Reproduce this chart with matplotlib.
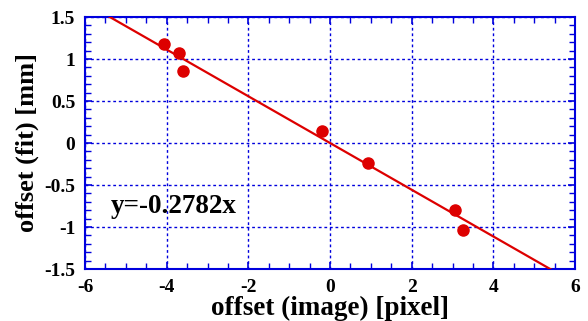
import numpy as np
import matplotlib.pyplot as plt
from matplotlib.ticker import MultipleLocator

# measured offsets
x_image = [-4.06, -3.70, -3.61, -0.20, 0.92, 3.06, 3.26]
y_fit = [1.175, 1.07, 0.853, 0.147, -0.234, -0.80, -1.036]
slope = -0.2782

plt.rcParams['font.family'] = ['Liberation Serif', 'DejaVu Serif']
plt.rcParams['font.weight'] = 'bold'

blue = '#0000dd'
red = '#dd0000'

fig = plt.figure(figsize=(5.88, 3.21), dpi=100)
ax = fig.add_axes([85 / 588, 1 - 269 / 321, 490 / 588, 252 / 321])

xl = np.array([-6, 6])
ax.plot(xl, slope * xl, color=red, lw=1.6, zorder=3)
ax.plot(x_image, y_fit, 'o', color=red, ms=8, zorder=4)

ax.set_xlim(-6, 6)
ax.set_ylim(-1.5, 1.5)
ax.xaxis.set_minor_locator(MultipleLocator(0.5))
ax.yaxis.set_minor_locator(MultipleLocator(0.1))
ax.set_xticks([-6, -4, -2, 0, 2, 4, 6])
ax.set_xticklabels(['-6', '-4', '-2', '0', '2', '4', '6'])
ax.set_yticks([-1.5, -1, -0.5, 0, 0.5, 1, 1.5])
ax.set_yticklabels(['-1.5', '-1', '-0.5', '0', '0.5', '1', '1.5'])

ax.grid(True, which='major', color=blue, ls=(0, (2, 2)), lw=1)
ax.tick_params(which='both', direction='in', top=True, right=True, color=blue,
               labelsize=14, pad=7)
ax.tick_params(which='major', length=5, width=1.2)
ax.tick_params(which='minor', length=4, width=1)
for s in ax.spines.values():
    s.set_color(blue)
    s.set_linewidth(1.5)

ax.set_xlabel('offset (image) [pixel]', fontsize=19.5, fontweight='bold', labelpad=0)
ax.set_ylabel('offset (fit) [mm]', fontsize=19, fontweight='bold', labelpad=4)
ax.text(-5.36, -0.83, 'y=-0.2782x', fontsize=19.5, fontweight='bold', ha='left', va='baseline')

fig.savefig('out.png', dpi=100)
